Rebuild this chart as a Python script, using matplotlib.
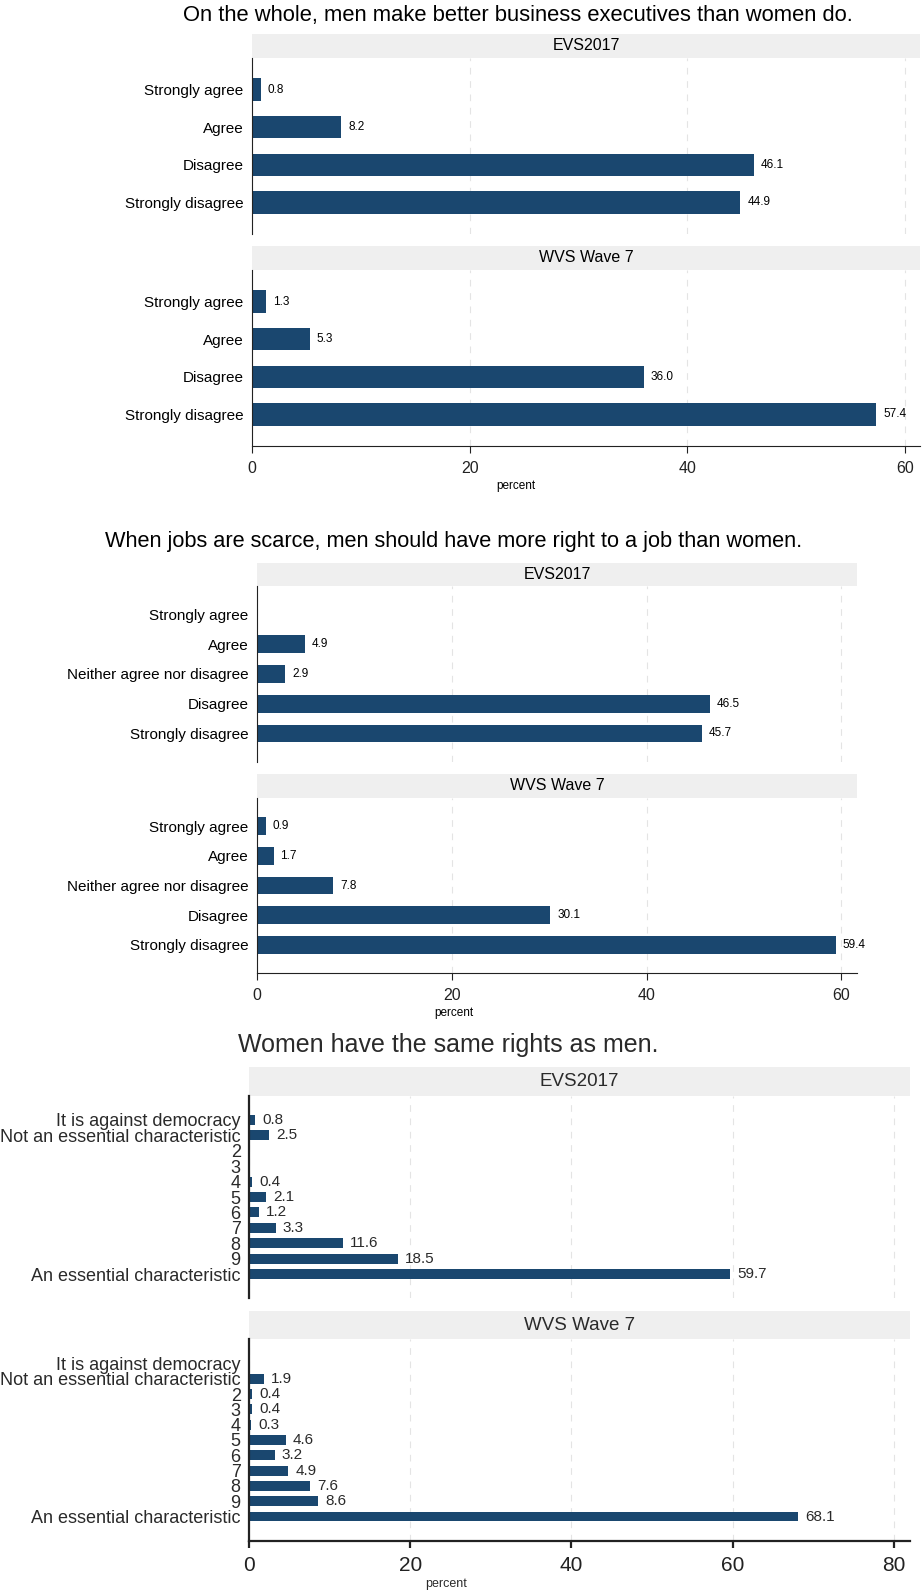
import numpy as np
import matplotlib
matplotlib.use("Agg")
import matplotlib.pyplot as plt

plt.rcParams['font.family'] = ['Liberation Sans', 'DejaVu Sans']

W, H = 922, 1593
NAVY = '#1a476f'
STRIP = '#efefef'

# --- data ---------------------------------------------------------------
q1_title = "On the whole, men make better business executives than women do."
q1_cats = ["Strongly agree", "Agree", "Disagree", "Strongly disagree"]
q1_evs = [0.8, 8.2, 46.1, 44.9]
q1_wvs = [1.3, 5.3, 36.0, 57.4]

q2_title = "When jobs are scarce, men should have more right to a job than women."
q2_cats = ["Strongly agree", "Agree", "Neither agree nor disagree",
           "Disagree", "Strongly disagree"]
q2_evs = [np.nan, 4.9, 2.9, 46.5, 45.7]
q2_wvs = [0.9, 1.7, 7.8, 30.1, 59.4]

q3_title = "Women have the same rights as men."
q3_cats = ["It is against democracy", "Not an essential characteristic",
           "2", "3", "4", "5", "6", "7", "8", "9",
           "An essential characteristic"]
q3_evs = [0.8, 2.5, np.nan, np.nan, 0.4, 2.1, 1.2, 3.3, 11.6, 18.5, 59.7]
q3_wvs = [np.nan, 1.9, 0.4, 0.4, 0.3, 4.6, 3.2, 4.9, 7.6, 8.6, 68.1]

panels = ["EVS2017", "WVS Wave 7"]


def box(x0, y0, x1, y1):
    # pixel box (top-left origin) -> figure fraction rect
    return [x0 / W, 1 - y1 / H, (x1 - x0) / W, (y1 - y0) / H]


def panel(fig, strip_px, plot_px, name, cats, vals, xmax, ticks, pad,
          bottom, st):
    sax = fig.add_axes(box(*strip_px))
    sax.set_facecolor(STRIP)
    sax.set_xticks([]); sax.set_yticks([])
    for s in sax.spines.values():
        s.set_visible(False)
    sax.text(0.5, 0.5, name, ha='center', va='center',
             fontsize=st['strip'], color=st['tc'],
             transform=sax.transAxes)

    ax = fig.add_axes(box(*plot_px))
    y = np.arange(len(cats))
    v = np.array(vals, dtype=float)
    ax.barh(y, np.nan_to_num(v), height=st['bh'], color=NAVY)
    for yi, vi in zip(y, v):
        if not np.isnan(vi):
            ax.annotate(f"{vi:.1f}", (vi, yi), xytext=(5, 0),
                        textcoords='offset points', va='center', ha='left',
                        fontsize=st['val'], color=st['tc'])
    ax.set_xlim(0, xmax)
    ax.set_ylim(len(cats) - 1 + pad, -pad)
    ax.set_yticks(y)
    ax.set_yticklabels(cats, fontsize=st['lab'], color=st['tc'])
    ax.tick_params(axis='y', length=0, pad=6)
    ax.set_xticks(ticks)
    ax.xaxis.grid(True, linestyle=(0, (6, 6)), color='#e4e4e4', lw=0.8)
    ax.set_axisbelow(True)
    for s in ('top', 'right'):
        ax.spines[s].set_visible(False)
    ax.spines['left'].set_linewidth(st['lw'])
    ax.spines['left'].set_color('#222222')
    if bottom:
        ax.spines['bottom'].set_linewidth(st['lw'])
        ax.spines['bottom'].set_color('#222222')
        ax.tick_params(axis='x', length=5, width=st['lw'], pad=6,
                       labelsize=st['tick'], colors='#222222')
    else:
        ax.spines['bottom'].set_visible(False)
        ax.tick_params(axis='x', length=0, labelbottom=False)
    return ax


fig = plt.figure(figsize=(W / 100, H / 100), dpi=100)

st12 = dict(strip=11.5, val=8.5, lab=11, tick=11.5, tc='black', bh=0.6, lw=0.8)
st3 = dict(strip=13.5, val=11, lab=13, tick=15, tc='#2a2a2a', bh=0.65, lw=1.6)

# chart 1
fig.text(518 / W, 1 - 15 / H, q1_title, ha='center', va='center', fontsize=15.8)
panel(fig, (252, 34, 920, 58), (252, 58, 920, 234), panels[0], q1_cats,
      q1_evs, 61.4, [0, 20, 40, 60], 0.84, False, st12)
panel(fig, (252, 246, 920, 270), (252, 270, 920, 446), panels[1], q1_cats,
      q1_wvs, 61.4, [0, 20, 40, 60], 0.84, True, st12)
fig.text(516 / W, 1 - 486 / H, "percent", ha='center', va='center', fontsize=8.5)

# chart 2
fig.text(454 / W, 1 - 542 / H, q2_title, ha='center', va='center', fontsize=15.7)
panel(fig, (257, 563, 857, 586), (257, 586, 857, 762), panels[0], q2_cats,
      q2_evs, 61.6, [0, 20, 40, 60], 0.96, False, st12)
panel(fig, (257, 774, 857, 798), (257, 798, 857, 973), panels[1], q2_cats,
      q2_wvs, 61.6, [0, 20, 40, 60], 0.95, True, st12)
fig.text(454 / W, 1 - 1013 / H, "percent", ha='center', va='center', fontsize=8.5)

# chart 3
fig.text(448 / W, 1 - 1045 / H, q3_title, ha='center', va='center',
         fontsize=18, color='#2a2a2a')
panel(fig, (249, 1067, 910, 1096), (249, 1096, 910, 1298), panels[0], q3_cats,
      q3_evs, 82, [0, 20, 40, 60, 80], 1.55, False, st3)
panel(fig, (249, 1311, 910, 1339), (249, 1339, 910, 1541), panels[1], q3_cats,
      q3_wvs, 82, [0, 20, 40, 60, 80], 1.6, True, st3)
fig.text(446 / W, 1 - 1584 / H, "percent", ha='center', va='center',
         fontsize=9, color='#2a2a2a')

fig.savefig("out.png", dpi=100)
